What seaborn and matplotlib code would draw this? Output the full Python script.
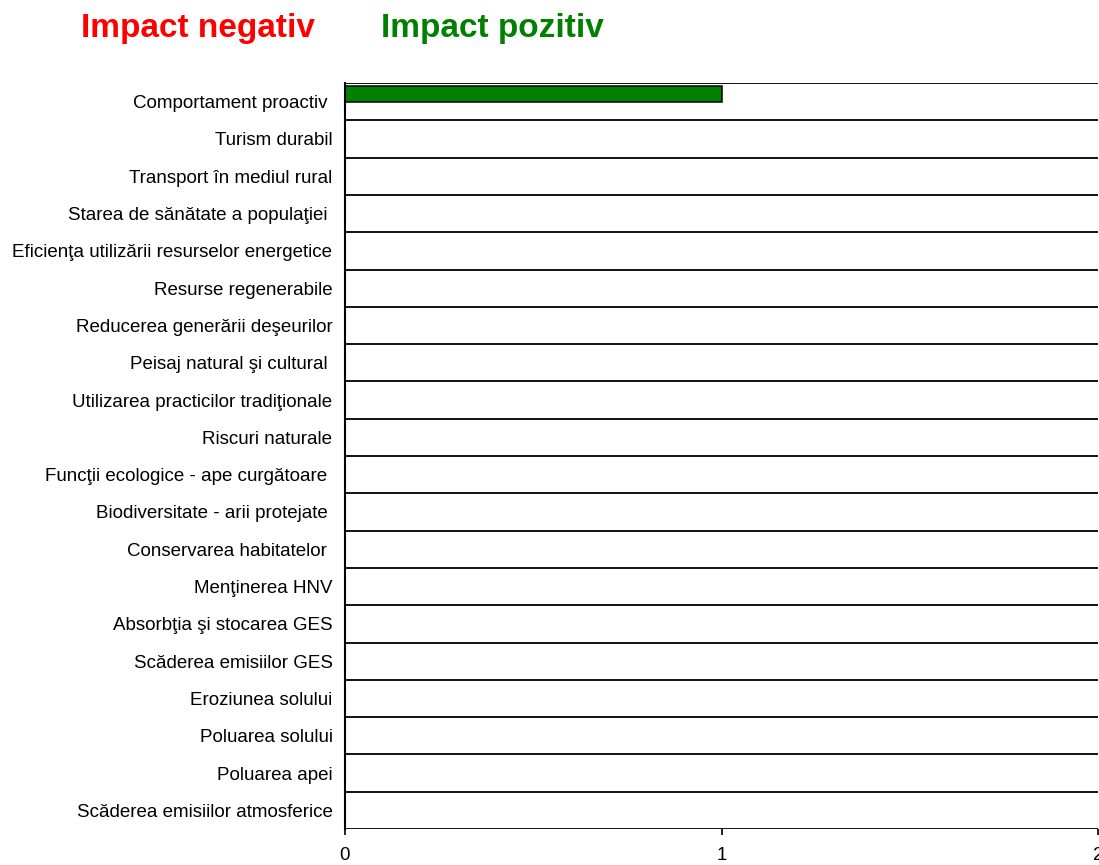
import matplotlib
matplotlib.use("Agg")
import matplotlib.pyplot as plt
import numpy as np
import pandas as pd
import seaborn as sns

# Indicators, listed top to bottom
categories = [
    "Comportament proactiv ",
    "Turism durabil",
    "Transport în mediul rural",
    "Starea de sănătate a populaţiei ",
    "Eficienţa utilizării resurselor energetice",
    "Resurse regenerabile",
    "Reducerea generării deşeurilor",
    "Peisaj natural şi cultural ",
    "Utilizarea practicilor tradiţionale",
    "Riscuri naturale",
    "Funcţii ecologice - ape curgătoare ",
    "Biodiversitate - arii protejate ",
    "Conservarea habitatelor ",
    "Menţinerea HNV",
    "Absorbţia şi stocarea GES",
    "Scăderea emisiilor GES",
    "Eroziunea solului",
    "Poluarea solului",
    "Poluarea apei",
    "Scăderea emisiilor atmosferice",
]

# Number of measures with positive / negative impact per indicator
impact_pozitiv = [1, 0, 0, 0, 0, 0, 0, 0, 0, 0, 0, 0, 0, 0, 0, 0, 0, 0, 0, 0]
impact_negativ = [0, 0, 0, 0, 0, 0, 0, 0, 0, 0, 0, 0, 0, 0, 0, 0, 0, 0, 0, 0]

x_ticks = [0, 1, 2]

df = pd.DataFrame({
    "indicator": categories * 2,
    "valoare": impact_pozitiv + impact_negativ,
    "tip": ["Impact pozitiv"] * len(categories) + ["Impact negativ"] * len(categories),
})

sns.set_theme(style="white")
plt.rcParams["font.family"] = ["Liberation Sans", "DejaVu Sans"]

fig = plt.figure(figsize=(10.99, 8.65), dpi=100)
ax = fig.add_axes([345 / 1099, 1 - 829 / 865, (1098 - 345) / 1099, (829 - 83) / 865])

sns.barplot(
    data=df, y="indicator", x="valoare", hue="tip",
    order=categories, hue_order=["Impact pozitiv", "Impact negativ"],
    palette={"Impact pozitiv": "#008000", "Impact negativ": "#ff0000"},
    orient="h", width=0.85, dodge=True, errorbar=None, saturation=1,
    edgecolor="black", linewidth=1.1, ax=ax, legend=False,
)

n = len(categories)
ax.set_xlim(0, 2)
ax.set_ylim(n - 0.5, -0.5)
ax.set_xticks(x_ticks)
ax.set_xticklabels([str(t) for t in x_ticks])
ax.set_xlabel("")
ax.set_ylabel("")

# Band separators as minor ticks + grid lines
ax.set_yticks(np.arange(-0.5, n, 1.0), minor=True)
ax.tick_params(axis="y", which="major", length=0, pad=9, labelsize=13.5, labelcolor="black")
ax.tick_params(axis="y", which="minor", length=6, width=1.2, direction="inout", color="black")
ax.tick_params(axis="x", which="major", length=4.5, width=1.2, direction="out", color="black",
               labelsize=13.5, labelcolor="black", pad=8.5, bottom=True)
ax.grid(False)
ax.grid(True, axis="y", which="minor", color="#111111", linewidth=1.4)
ax.set_axisbelow(True)

for side in ["top", "right", "bottom"]:
    ax.spines[side].set_visible(False)
ax.spines["left"].set_color("black")
ax.spines["left"].set_linewidth(1.5)

fig.text(198 / 1099, 1 - 37 / 865, "Impact negativ", color="#ff0000", fontsize=24,
         fontweight="bold", ha="center", va="baseline")
fig.text(492 / 1099, 1 - 37 / 865, "Impact pozitiv", color="#008000", fontsize=24,
         fontweight="bold", ha="center", va="baseline")

fig.savefig("out.png", dpi=100)
